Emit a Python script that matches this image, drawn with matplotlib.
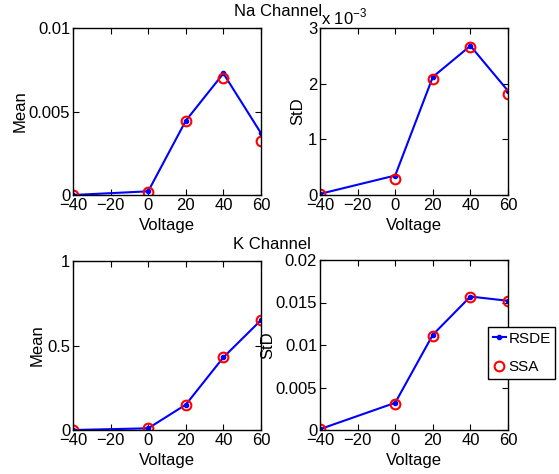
import numpy as np
import matplotlib
matplotlib.use("Agg")
import matplotlib.pyplot as plt

plt.rcParams.update({
    "font.family": ["Liberation Sans", "DejaVu Sans"],
    "font.size": 12,
    "xtick.direction": "in",
    "ytick.direction": "in",
    "xtick.top": True,
    "ytick.right": True,
    "axes.linewidth": 1.0,
    "mathtext.fontset": "custom",
    "mathtext.rm": "Liberation Sans",
})

voltage = [-40, 0, 20, 40, 60]

# Na channel
na_mean_rsde = [0.0, 0.00022, 0.00445, 0.00728, 0.0037]
na_mean_ssa = [0.0, 0.00015, 0.00445, 0.0070, 0.00325]
na_std_rsde = [0.00002, 0.00035, 0.00212, 0.00268, 0.00187]
na_std_ssa = [0.00001, 0.00029, 0.00209, 0.00266, 0.00182]

# K channel
k_mean_rsde = [0.0, 0.01, 0.15, 0.43, 0.65]
k_mean_ssa = [0.0, 0.01, 0.15, 0.43, 0.65]
k_std_rsde = [0.0001, 0.0032, 0.0112, 0.0157, 0.0152]
k_std_ssa = [0.0001, 0.0031, 0.0111, 0.0156, 0.0152]

fig = plt.figure(figsize=(5.59, 4.74), dpi=100)
W, H = 559, 474


def add_axes(x0, y0, x1, y1):
    return fig.add_axes([x0 / W, 1 - y1 / H, (x1 - x0) / W, (y1 - y0) / H])


def draw(ax, rsde, ssa, yticks, yticklabels, ylim):
    l1, = ax.plot(voltage, rsde, color="blue", marker=".", markersize=6, linewidth=1.5, label="RSDE")
    l2, = ax.plot(voltage, ssa, linestyle="none", marker="o", markersize=7,
                  markerfacecolor="none", markeredgecolor="red", markeredgewidth=1.5, label="SSA")
    ax.set_xlim(-40, 60)
    ax.set_ylim(*ylim)
    ax.set_xticks([-40, -20, 0, 20, 40, 60])
    ax.set_xticklabels(["\u221240", "\u221220", "0", "20", "40", "60"])
    ax.set_yticks(yticks)
    ax.set_yticklabels(yticklabels)
    ax.tick_params(length=4, pad=2)
    ax.set_xlabel("Voltage")
    ax.xaxis.set_label_coords(0.5, -0.135)
    return l1, l2


ax1 = add_axes(73, 28, 261, 195)
draw(ax1, na_mean_rsde, na_mean_ssa, [0, 0.005, 0.01], ["0", "0.005", "0.01"], (0, 0.01))
ax1.set_ylabel("Mean")
ax1.yaxis.set_label_coords(-0.24, 0.5)

ax2 = add_axes(320, 28, 508, 195)
draw(ax2, np.array(na_std_rsde) / 1e-3, np.array(na_std_ssa) / 1e-3,
     [0, 1, 2, 3], ["0", "1", "2", "3"], (0, 3))
ax2.set_ylabel("StD")
ax2.yaxis.set_label_coords(-0.08, 0.5)
fig.text(321 / W, 1 - 17 / H, r"x 10$^{-3}$", ha="left", va="center")

ax3 = add_axes(73, 261, 261, 430)
draw(ax3, k_mean_rsde, k_mean_ssa, [0, 0.5, 1], ["0", "0.5", "1"], (0, 1))
ax3.set_ylabel("Mean")
ax3.yaxis.set_label_coords(-0.15, 0.5)

ax4 = add_axes(320, 260, 508, 430)
l1, l2 = draw(ax4, k_std_rsde, k_std_ssa, [0, 0.005, 0.01, 0.015, 0.02],
              ["0", "0.005", "0.01", "0.015", "0.02"], (0, 0.02))
ax4.set_ylabel("StD")
ax4.yaxis.set_label_coords(-0.24, 0.5)

leg = fig.legend(handles=[l1, l2], loc="upper left",
                 bbox_to_anchor=(488 / W, 1 - 327 / H), frameon=True, fancybox=False,
                 edgecolor="black", borderpad=0.3, handlelength=0.9, handletextpad=0.15,
                 labelspacing=0.95, borderaxespad=0, framealpha=1, fontsize=11)
leg.get_frame().set_linewidth(1.0)

fig.text(278 / W, 1 - 12 / H, "Na Channel", ha="center", va="center")
fig.text(272 / W, 1 - 244 / H, "K Channel", ha="center", va="center")

fig.savefig("out.png", dpi=100)
